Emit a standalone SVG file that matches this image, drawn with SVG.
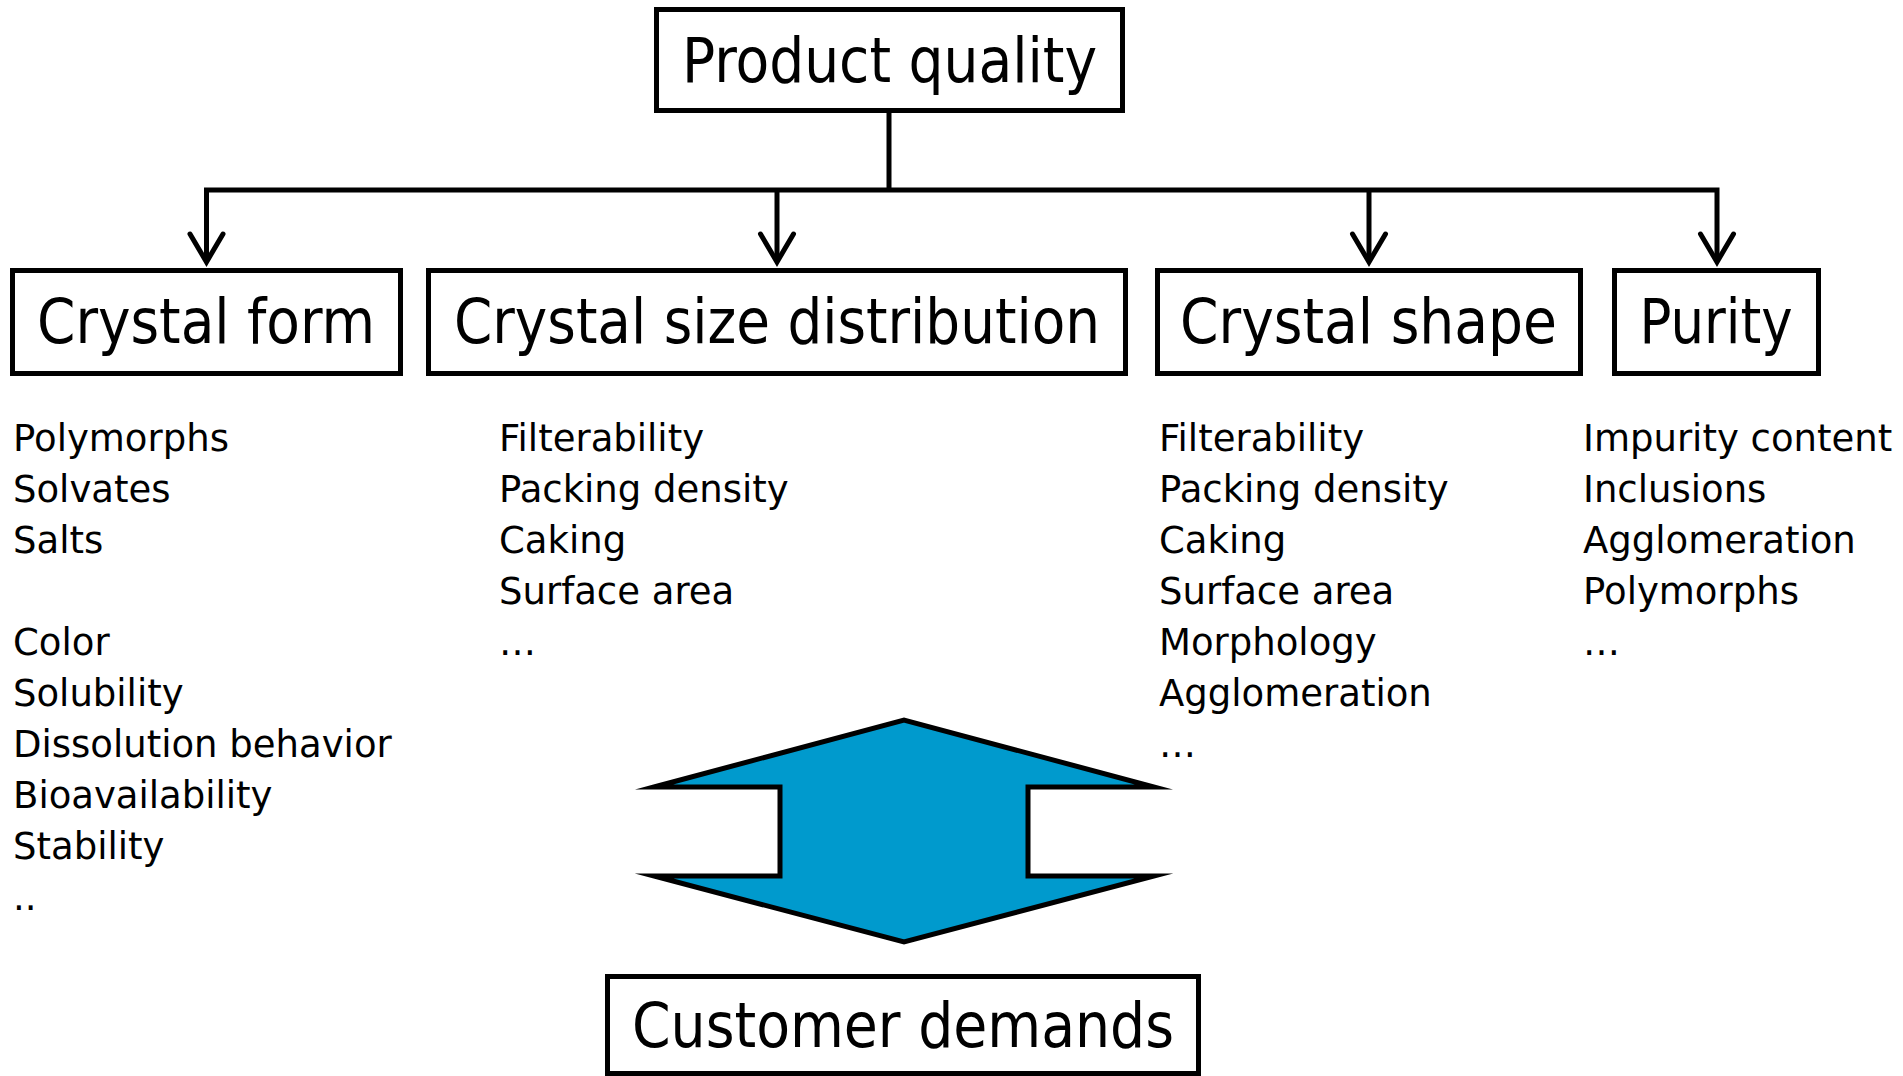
<svg xmlns="http://www.w3.org/2000/svg" width="1903" height="1076" viewBox="0 0 1903 1076">
<style>
.box{fill:#fff;stroke:#000;stroke-width:5}
.hd{font-family:"DejaVu Sans Condensed","DejaVu Sans",sans-serif;font-size:63px;fill:#000;text-anchor:middle}
.it{font-family:"DejaVu Sans","Verdana",sans-serif;font-size:37px;fill:#000}
.con{fill:none;stroke:#000;stroke-width:5;stroke-linejoin:miter}
</style>
<defs>
<marker id="v" markerUnits="userSpaceOnUse" markerWidth="60" markerHeight="60" viewBox="-40 -30 60 60" refX="0" refY="0" orient="auto-start-reverse" overflow="visible">
<path d="M-28,-16.5 L0,0 L-28,16.5" fill="none" stroke="#000" stroke-width="5" stroke-linecap="round" stroke-linejoin="miter"/>
</marker>
</defs>
<rect width="1903" height="1076" fill="#fff"/>
<g id="connectors">
<path class="con" d="M889,112 V190"/>
<path class="con" d="M206.5,262 V190 H1717 V262" marker-start="url(#v)" marker-end="url(#v)"/>
<path class="con" d="M777,190 V262" marker-end="url(#v)"/>
<path class="con" d="M1369,190 V262" marker-end="url(#v)"/>
</g>
<g id="product-quality">
<rect class="box" x="656.5" y="9.5" width="466" height="101"/>
<text class="hd" x="889.5" y="82" font-size="66" textLength="415" lengthAdjust="spacingAndGlyphs">Product quality</text>
</g>
<g id="crystal-form">
<rect class="box" x="12.5" y="270.5" width="388" height="103"/>
<text class="hd" x="206" y="343" textLength="338" lengthAdjust="spacingAndGlyphs">Crystal form</text>
</g>
<g id="crystal-size-distribution">
<rect class="box" x="428.5" y="270.5" width="697" height="103"/>
<text class="hd" x="777" y="343" textLength="646" lengthAdjust="spacingAndGlyphs">Crystal size distribution</text>
</g>
<g id="crystal-shape">
<rect class="box" x="1157.5" y="270.5" width="423" height="103"/>
<text class="hd" x="1368.5" y="343" textLength="377" lengthAdjust="spacingAndGlyphs">Crystal shape</text>
</g>
<g id="purity">
<rect class="box" x="1614.5" y="270.5" width="204" height="103"/>
<text class="hd" x="1716" y="343" textLength="153" lengthAdjust="spacingAndGlyphs">Purity</text>
</g>
<g id="customer-demands">
<rect class="box" x="607.5" y="976.5" width="591" height="97"/>
<text class="hd" x="903" y="1047" textLength="542" lengthAdjust="spacingAndGlyphs">Customer demands</text>
</g>
<g id="double-arrow">
<polygon points="654,787 904,720 1154,787 1028,787 1028,876 1154,876 904,942 654,876 780,876 780,787" fill="#009acd" stroke="#000" stroke-width="5" stroke-linejoin="miter" stroke-miterlimit="10"/>
</g>
<g id="list-crystal-form">
<text class="it" x="13" y="451">Polymorphs</text>
<text class="it" x="13" y="502">Solvates</text>
<text class="it" x="13" y="553">Salts</text>
<text class="it" x="13" y="655">Color</text>
<text class="it" x="13" y="706">Solubility</text>
<text class="it" x="13" y="757">Dissolution behavior</text>
<text class="it" x="13" y="808">Bioavailability</text>
<text class="it" x="13" y="859">Stability</text>
<text class="it" x="13" y="910">..</text>
</g>
<g id="list-csd">
<text class="it" x="499" y="451">Filterability</text>
<text class="it" x="499" y="502">Packing density</text>
<text class="it" x="499" y="553">Caking</text>
<text class="it" x="499" y="604">Surface area</text>
<text class="it" x="499" y="655">…</text>
</g>
<g id="list-crystal-shape">
<text class="it" x="1159" y="451">Filterability</text>
<text class="it" x="1159" y="502">Packing density</text>
<text class="it" x="1159" y="553">Caking</text>
<text class="it" x="1159" y="604">Surface area</text>
<text class="it" x="1159" y="655">Morphology</text>
<text class="it" x="1159" y="706">Agglomeration</text>
<text class="it" x="1159" y="757">…</text>
</g>
<g id="list-purity">
<text class="it" x="1583" y="451">Impurity content</text>
<text class="it" x="1583" y="502">Inclusions</text>
<text class="it" x="1583" y="553">Agglomeration</text>
<text class="it" x="1583" y="604">Polymorphs</text>
<text class="it" x="1583" y="655">…</text>
</g>
</svg>
